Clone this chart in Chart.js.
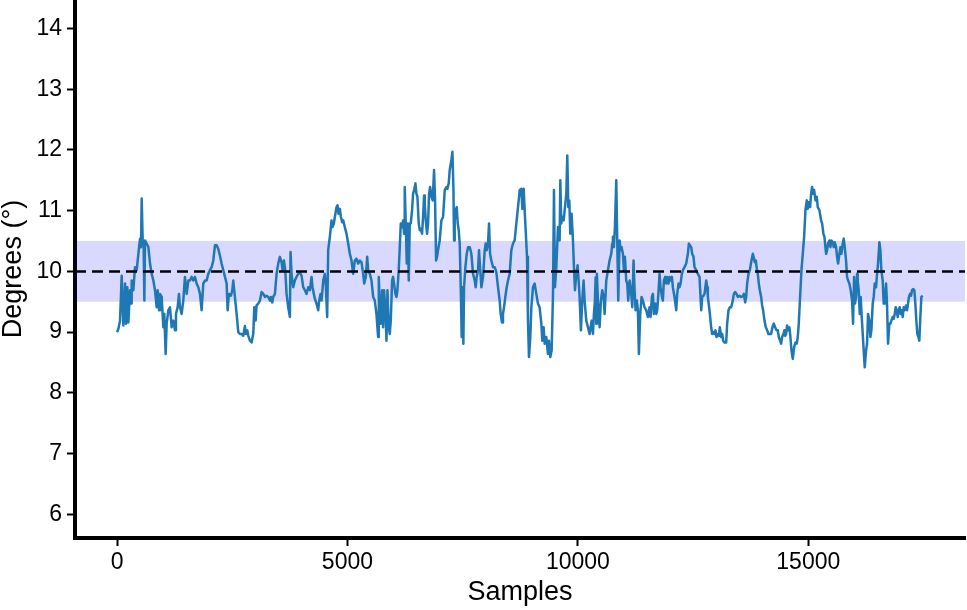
<!DOCTYPE html>
<html>
<head>
<meta charset="utf-8">
<script src="https://cdn.jsdelivr.net/npm/chart.js@4.4.1/dist/chart.umd.min.js"></script>
<style>
  html, body { margin: 0; padding: 0; background: #fff; }
  #wrap { width: 967px; height: 610px; position: relative; }
</style>
</head>
<body>
<div id="wrap"><canvas id="chart"></canvas></div>
<script>
// ── Data ────────────────────────────────────────────────────────────────────
const samples = [
  0, 29, 65, 101, 137, 174, 195, 224, 246, 282, 304, 318, 354, 390, 427, 463, 499, 520, 535, 557,
  578, 593, 607, 643, 680, 716, 752, 788, 824, 860, 882, 911, 932, 969, 1005, 1026, 1055, 1077, 1113, 1149,
  1185, 1222, 1258, 1279, 1315, 1344, 1366, 1402, 1438, 1474, 1511, 1547, 1583, 1619, 1655, 1691, 1727, 1764, 1800, 1836,
  1872, 1908, 1944, 1980, 2016, 2053, 2089, 2125, 2161, 2197, 2233, 2269, 2306, 2342, 2378, 2400, 2428, 2472, 2501, 2522,
  2558, 2595, 2631, 2667, 2703, 2739, 2775, 2797, 2826, 2848, 2884, 2920, 2956, 2978, 3007, 3028, 3064, 3101, 3137, 3173,
  3209, 3245, 3281, 3317, 3339, 3368, 3390, 3426, 3462, 3498, 3534, 3570, 3592, 3621, 3650, 3679, 3715, 3751, 3765, 3787,
  3823, 3859, 3895, 3932, 3968, 4004, 4040, 4076, 4112, 4148, 4185, 4221, 4242, 4271, 4293, 4329, 4365, 4387, 4416, 4438,
  4474, 4510, 4532, 4560, 4582, 4618, 4654, 4676, 4705, 4727, 4763, 4784, 4806, 4835, 4857, 4886, 4907, 4943, 4980, 5016,
  5052, 5088, 5124, 5160, 5196, 5233, 5269, 5305, 5341, 5363, 5399, 5428, 5449, 5486, 5522, 5558, 5594, 5629, 5665, 5680,
  5701, 5723, 5752, 5774, 5795, 5824, 5846, 5868, 5897, 5918, 5940, 5969, 5990, 6012, 6041, 6063, 6084, 6113, 6135, 6157,
  6186, 6207, 6229, 6243, 6265, 6287, 6308, 6330, 6352, 6374, 6402, 6424, 6446, 6475, 6496, 6518, 6547, 6569, 6590, 6619,
  6641, 6663, 6677, 6699, 6728, 6749, 6771, 6793, 6822, 6850, 6879, 6901, 6923, 6944, 6966, 7002, 7038, 7075, 7111, 7147,
  7168, 7197, 7219, 7255, 7277, 7299, 7313, 7327, 7349, 7371, 7393, 7414, 7436, 7458, 7479, 7494, 7515, 7530, 7559, 7588,
  7617, 7653, 7689, 7725, 7761, 7783, 7804, 7833, 7855, 7877, 7906, 7942, 7978, 8000, 8021, 8050, 8072, 8094, 8122, 8159,
  8195, 8231, 8267, 8303, 8325, 8354, 8375, 8397, 8426, 8455, 8484, 8520, 8556, 8592, 8628, 8665, 8701, 8737, 8773, 8795,
  8824, 8845, 8867, 8896, 8917, 8939, 8968, 8990, 9026, 9062, 9098, 9134, 9170, 9207, 9228, 9257, 9279, 9315, 9351, 9373,
  9402, 9431, 9460, 9481, 9503, 9532, 9568, 9604, 9619, 9640, 9662, 9691, 9720, 9749, 9770, 9792, 9814, 9835, 9864, 9893,
  9915, 9937, 9965, 9994, 10016, 10037, 10066, 10095, 10124, 10146, 10182, 10218, 10254, 10276, 10298, 10327, 10348, 10370, 10385, 10399,
  10413, 10435, 10457, 10471, 10500, 10529, 10558, 10580, 10616, 10652, 10688, 10724, 10746, 10760, 10782, 10804, 10833, 10854, 10876, 10905,
  10927, 10948, 10977, 10999, 11021, 11049, 11071, 11093, 11122, 11158, 11180, 11208, 11230, 11252, 11281, 11302, 11324, 11353, 11382, 11411,
  11447, 11483, 11519, 11555, 11577, 11606, 11628, 11649, 11678, 11700, 11722, 11751, 11772, 11794, 11823, 11844, 11866, 11895, 11917, 11938,
  11967, 11989, 12011, 12040, 12061, 12097, 12134, 12155, 12184, 12206, 12228, 12256, 12278, 12314, 12350, 12387, 12408, 12430, 12459, 12480,
  12509, 12531, 12567, 12603, 12639, 12661, 12676, 12697, 12726, 12748, 12784, 12806, 12820, 12856, 12892, 12914, 12936, 12964, 12986, 13008,
  13037, 13059, 13080, 13109, 13131, 13153, 13182, 13218, 13239, 13268, 13297, 13326, 13362, 13384, 13413, 13442, 13471, 13507, 13543, 13579,
  13601, 13630, 13651, 13673, 13702, 13731, 13760, 13796, 13817, 13839, 13861, 13883, 13904, 13926, 13948, 13977, 13998, 14020, 14049, 14078,
  14107, 14135, 14164, 14193, 14222, 14251, 14280, 14309, 14338, 14359, 14388, 14410, 14432, 14461, 14482, 14497, 14519, 14540, 14562, 14591,
  14612, 14634, 14663, 14692, 14721, 14750, 14771, 14793, 14822, 14851, 14880, 14909, 14938, 14967, 14988, 15010, 15039, 15061, 15082, 15104,
  15126, 15155, 15183, 15205, 15241, 15277, 15299, 15328, 15350, 15371, 15386, 15407, 15429, 15458, 15480, 15501, 15530, 15552, 15574, 15603,
  15624, 15646, 15675, 15697, 15718, 15747, 15769, 15790, 15819, 15841, 15863, 15891, 15920, 15949, 15971, 15993, 16014, 16036, 16058, 16072,
  16094, 16116, 16137, 16159, 16181, 16202, 16224, 16253, 16275, 16296, 16325, 16347, 16369, 16397, 16419, 16441, 16470, 16492, 16513, 16542,
  16564, 16585, 16614, 16636, 16658, 16687, 16708, 16730, 16759, 16781, 16802, 16831, 16853, 16875, 16896, 16918, 16940, 16961, 16983, 17005,
  17026, 17048, 17070, 17091, 17120, 17142, 17164, 17185, 17207, 17229, 17250, 17279, 17301, 17323, 17344, 17366, 17388, 17409, 17431, 17453,
  17482
];

const degrees = [
  9.00, 9.05, 9.19, 9.93, 9.11, 9.80, 9.14, 9.74, 9.16, 9.69, 9.47, 9.85, 9.69, 10.07, 10.02, 10.29, 10.54, 10.40, 11.20, 10.51,
  10.40, 9.52, 10.51, 10.46, 10.40, 10.13, 9.96, 9.85, 9.69, 9.41, 9.69, 9.36, 9.63, 9.58, 9.08, 9.30, 8.64, 9.14, 9.36, 9.41,
  9.08, 9.19, 9.03, 9.30, 9.41, 9.63, 9.41, 9.30, 9.52, 9.91, 9.63, 9.85, 9.85, 9.91, 9.85, 9.91, 9.80, 9.74, 9.63, 9.36,
  9.80, 9.85, 9.85, 9.96, 10.02, 10.07, 10.18, 10.43, 10.43, 10.37, 10.26, 10.13, 10.02, 9.91, 9.80, 9.36, 9.63, 9.60, 9.69, 9.85,
  9.58, 9.30, 9.00, 8.97, 8.97, 8.94, 9.10, 8.97, 9.03, 8.94, 8.86, 8.83, 8.97, 9.41, 9.19, 9.44, 9.47, 9.52, 9.66, 9.63,
  9.58, 9.60, 9.58, 9.52, 9.58, 9.49, 9.58, 9.63, 9.96, 10.13, 10.24, 10.15, 10.02, 10.18, 10.02, 9.63, 9.41, 9.25, 10.32, 9.96,
  9.74, 9.85, 9.91, 9.96, 9.99, 9.93, 9.74, 9.69, 9.63, 9.74, 9.69, 9.91, 9.74, 9.63, 9.55, 9.47, 9.36, 9.52, 9.63, 9.52,
  9.85, 9.96, 9.74, 9.25, 10.35, 10.57, 10.84, 10.73, 10.79, 10.90, 11.06, 11.09, 10.95, 11.03, 10.90, 10.81, 10.84, 10.73, 10.62, 10.46,
  10.29, 10.18, 9.96, 10.18, 10.21, 10.13, 10.18, 10.15, 9.96, 9.80, 9.91, 10.24, 10.02, 9.96, 9.85, 9.58, 9.52, 9.30, 8.92, 9.91,
  9.41, 9.14, 9.69, 9.08, 9.69, 9.36, 8.86, 9.69, 9.08, 8.97, 9.19, 9.85, 9.91, 9.80, 9.63, 9.58, 9.69, 10.02, 10.40, 10.79,
  10.73, 10.84, 10.62, 11.39, 10.79, 10.13, 10.79, 9.85, 10.79, 10.79, 11.01, 11.28, 11.34, 11.45, 11.28, 11.23, 10.79, 10.68, 10.70, 10.62,
  10.90, 11.25, 11.12, 10.84, 10.62, 10.79, 11.28, 11.39, 11.23, 11.17, 11.67, 11.17, 10.18, 10.24, 10.35, 10.51, 10.84, 10.90, 11.34, 11.39,
  11.36, 11.45, 11.67, 11.83, 11.97, 11.39, 10.51, 10.84, 11.01, 11.06, 10.79, 10.68, 10.46, 9.74, 8.92, 9.74, 8.81, 9.74, 10.07, 10.29,
  10.40, 10.40, 10.29, 9.96, 9.85, 9.74, 9.91, 10.02, 10.35, 10.07, 9.74, 9.91, 10.35, 10.46, 10.35, 10.46, 10.79, 10.29, 10.18, 10.07,
  10.07, 9.99, 9.74, 9.52, 9.30, 9.16, 9.30, 9.41, 9.58, 9.74, 9.85, 9.96, 10.35, 10.46, 10.51, 10.79, 11.06, 11.34, 11.36, 11.03,
  11.36, 11.01, 10.68, 10.24, 9.19, 8.59, 8.92, 9.41, 9.74, 9.80, 9.63, 9.47, 9.41, 9.14, 8.86, 9.08, 8.81, 8.92, 8.64, 8.86,
  8.59, 8.70, 9.63, 11.34, 9.74, 10.07, 10.73, 10.51, 11.50, 10.79, 10.90, 10.84, 11.06, 11.28, 11.91, 11.06, 11.17, 10.62, 10.95, 10.51,
  10.07, 9.69, 9.96, 10.10, 9.85, 9.58, 9.03, 9.52, 9.85, 9.52, 9.19, 9.08, 8.97, 9.08, 9.19, 8.97, 9.30, 9.52, 9.90, 9.14,
  9.96, 9.52, 9.30, 9.08, 9.52, 9.69, 9.58, 9.30, 9.85, 10.02, 10.18, 10.29, 10.46, 10.57, 10.40, 10.73, 11.50, 10.51, 9.52, 10.51,
  10.35, 10.40, 10.29, 10.02, 10.24, 9.85, 9.80, 9.52, 9.85, 9.63, 9.41, 10.18, 9.69, 9.36, 9.52, 9.36, 8.64, 9.30, 9.58, 9.52,
  9.41, 9.36, 9.25, 9.41, 9.25, 9.58, 9.63, 9.30, 9.47, 9.30, 9.36, 9.69, 9.96, 9.74, 9.58, 9.52, 9.85, 9.91, 9.80, 9.91,
  9.80, 9.91, 9.85, 9.91, 9.74, 9.58, 9.36, 9.63, 9.80, 9.74, 9.80, 9.96, 10.02, 10.07, 10.13, 10.29, 10.46, 10.43, 10.40, 10.29,
  10.24, 10.07, 10.02, 9.96, 9.91, 9.58, 9.36, 9.58, 9.60, 9.63, 9.85, 9.74, 9.58, 9.36, 9.08, 8.97, 9.00, 8.97, 9.03, 8.92,
  8.97, 8.94, 9.08, 8.92, 8.97, 8.86, 8.83, 8.83, 9.14, 9.36, 9.41, 9.41, 9.52, 9.63, 9.66, 9.63, 9.58, 9.60, 9.58, 9.59,
  9.63, 9.49, 9.58, 9.80, 9.96, 10.02, 10.15, 10.29, 10.23, 10.15, 10.18, 10.04, 9.96, 9.80, 9.69, 9.58, 9.44, 9.36, 9.19, 9.08,
  9.03, 8.97, 8.97, 8.97, 9.08, 9.14, 9.08, 9.03, 9.03, 8.92, 8.86, 8.81, 8.92, 8.97, 9.03, 8.94, 8.97, 9.11, 9.03, 9.08,
  8.92, 8.70, 8.56, 8.75, 8.83, 8.81, 8.92, 9.14, 9.58, 10.02, 10.29, 10.57, 11.01, 11.17, 11.03, 11.14, 11.06, 11.28, 11.39, 11.28,
  11.34, 11.17, 11.23, 11.06, 11.01, 10.84, 10.79, 10.62, 10.57, 10.40, 10.29, 10.35, 10.46, 10.51, 10.40, 10.51, 10.48, 10.40, 10.48, 10.40,
  10.24, 10.13, 10.29, 10.40, 10.29, 10.46, 10.54, 10.40, 10.18, 9.91, 9.85, 9.80, 9.69, 9.52, 9.14, 9.91, 9.47, 9.58, 9.96, 9.85,
  9.69, 9.30, 9.58, 9.25, 8.97, 8.70, 8.42, 8.70, 8.81, 9.30, 9.19, 8.92, 9.03, 9.47, 9.58, 9.80, 9.74, 9.96, 10.13, 10.48,
  10.35, 10.02, 9.85, 9.47, 9.47, 9.80, 9.47, 8.81, 9.14, 9.14, 9.19, 9.25, 9.22, 9.30, 9.41, 9.36, 9.25, 9.36, 9.41, 9.30,
  9.36, 9.25, 9.41, 9.36, 9.44, 9.36, 9.47, 9.58, 9.63, 9.60, 9.69, 9.71, 9.69, 9.47, 9.19, 8.97, 8.92, 8.86, 9.25, 9.58,
  9.60
];

const xTicks = [0, 5000, 10000, 15000];
const yTicks = [6, 7, 8, 9, 10, 11, 12, 13, 14];
const xRange = [-912, 18400];
const yRange = [5.61, 14.47];
const target = 10;
const bandLow = 9.5;
const bandHigh = 10.5;

// ── Chart ────────────────────────────────────────────────────────────────────
const FONT = '"Liberation Sans", Arial, Helvetica, sans-serif';
const flat = v => [{ x: xRange[0], y: v }, { x: xRange[1], y: v }];

new Chart(document.getElementById('chart').getContext('2d'), {
    type: 'line',
    data: {
        datasets: [{
            // dashed target line, on top
            data: flat(target),
            borderColor: '#000',
            borderWidth: 2.5,
            borderDash: [11, 6],
            pointRadius: 0,
            fill: false,
        }, {
            data: samples.map((s, i) => ({ x: s, y: degrees[i] })),
            borderColor: '#1f77b4',
            borderWidth: 2.5,
            borderJoinStyle: 'round',
            pointRadius: 0,
            tension: 0,
            fill: false,
        }, {
            data: flat(bandHigh),
            borderWidth: 0,
            borderColor: 'rgba(0,0,0,0)',
            backgroundColor: 'rgba(0,0,255,0.15)',
            pointRadius: 0,
            fill: '+1',
        }, {
            data: flat(bandLow),
            borderWidth: 0,
            borderColor: 'rgba(0,0,0,0)',
            pointRadius: 0,
            fill: false,
        }]
    },
    options: {
        responsive: true,
        maintainAspectRatio: false,
        animation: false,
        layout: { padding: { top: 0, right: 2, bottom: 0, left: 0 } },
        plugins: { legend: { display: false }, tooltip: { enabled: false } },
        scales: {
            x: {
                type: 'linear',
                min: xRange[0],
                max: xRange[1],
                afterBuildTicks: s => { s.ticks = xTicks.map(v => ({ value: v })); },
                afterFit: s => { s.height = 72; s.paddingLeft = 0; s.paddingRight = 0; },
                grid: { drawOnChartArea: false, tickLength: 8, tickWidth: 2, tickColor: '#000' },
                border: { color: '#000', width: 4 },
                ticks: { color: '#000', padding: 3, maxRotation: 0, font: { family: FONT, size: 23 }, callback: v => String(v) },
                title: { display: true, text: 'Samples', color: '#000', font: { family: FONT, size: 27 }, padding: { top: 0, bottom: 1 } }
            },
            y: {
                type: 'linear',
                min: yRange[0],
                max: yRange[1],
                afterBuildTicks: s => { s.ticks = yTicks.map(v => ({ value: v })); },
                afterFit: s => { s.width = 75; s.paddingTop = 0; s.paddingBottom = 0; },
                grid: { drawOnChartArea: false, tickLength: 8, tickWidth: 2, tickColor: '#000' },
                border: { color: '#000', width: 4 },
                ticks: { color: '#000', padding: 5, font: { family: FONT, size: 23 }, callback: v => String(v) },
                title: { display: true, text: 'Degrees (°)', color: '#000', font: { family: FONT, size: 27 }, padding: { top: -3, bottom: 0 } }
            }
        }
    }
});
</script>
</body>
</html>
